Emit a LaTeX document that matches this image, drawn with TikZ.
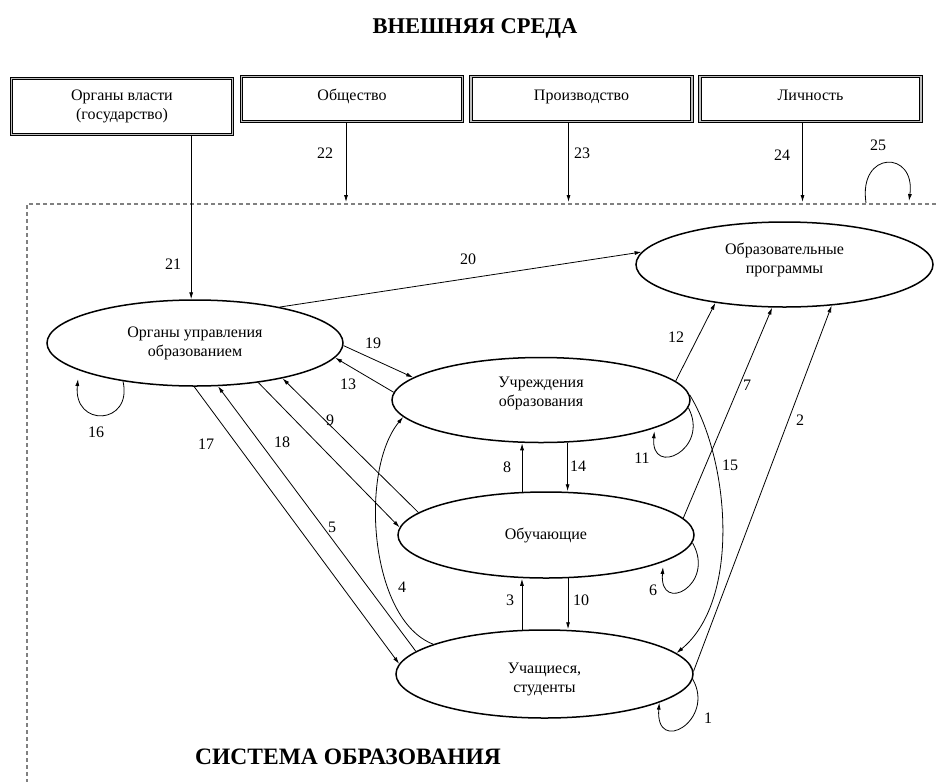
\documentclass[tikz,border=0pt]{standalone}
\usepackage{fontspec}
\setmainfont{Liberation Serif}
\usetikzlibrary{shapes.geometric,arrows.meta}
\begin{document}
\begin{tikzpicture}[x=1pt,y=-1pt,
  every node/.style={font=\fontsize{16}{19}\selectfont},
  ell/.style={ellipse,draw,line width=1.5pt,inner sep=0pt,align=center},
  box/.style={draw=black,line width=1pt,double=gray!50,double distance=1.5pt,inner sep=0pt,align=center,minimum width=221pt},
  arr/.style={-{Latex[length=7pt,width=4pt]},line width=0.8pt},
  lbl/.style={inner sep=0pt},
  ttl/.style={font=\fontsize{22.5}{26}\selectfont\bfseries},
  dashbord/.style={draw=gray,line width=1.4pt,dash pattern=on 4pt off 3pt}
]
\useasboundingbox (0,0) rectangle (936,782);

% titles
\node[ttl] (t1) at (475,28) {ВНЕШНЯЯ СРЕДА};
\node[ttl,font=\fontsize{23.5}{27}\selectfont\bfseries] (t2) at (348,757) {СИСТЕМА ОБРАЗОВАНИЯ};

% dashed border of the system
\coordinate (dright) at (936,204);
\coordinate (dtop) at (27,204);
\coordinate (dbot) at (27,782);
\draw[dashbord] (dright) -- (dtop) -- (dbot);

% boxes of the environment
\node[box,minimum height=56pt] (b1) at (122,106.5) {Органы власти\\(государство)};
\node[box,minimum height=45pt,text height=11pt,text depth=9pt] (b2) at (352,99) {Общество};
\node[box,minimum height=45pt,text height=11pt,text depth=9pt] (b3) at (581.5,99) {Производство};
\node[box,minimum height=45pt,text height=11pt,text depth=9pt] (b4) at (810.5,99) {Личность};

% ellipses
\node[ell,minimum width=296pt,minimum height=86pt] (OU) at (195,343) {Органы управления\\образованием};
\node[ell,minimum width=297pt,minimum height=85pt,text depth=13pt] (OP) at (784.5,264.5) {Образовательные\\программы};
\node[ell,minimum width=298pt,minimum height=85pt,text depth=16pt] (UO) at (541,400) {Учреждения\\образования};
\node[ell,minimum width=296pt,minimum height=86pt] (OB) at (546,535) {Обучающие};
\node[ell,minimum width=297pt,minimum height=88pt,text height=40pt] (US) at (544.5,674) {Учащиеся,\\студенты};

% arrows from the environment
\draw[arr] (b1.south -| OU.95) -- (OU.95);
\coordinate (a22) at ([xshift=-6pt]b2.south);
\coordinate (a23) at ([xshift=-13pt]b3.south);
\coordinate (a24) at ([xshift=-8pt]b4.south);
\draw[arr,shorten >=2pt] (a22) -- (a22 |- dtop);
\draw[arr,shorten >=2pt] (a23) -- (a23 |- dtop);
\draw[arr,shorten >=2pt] (a24) -- (a24 |- dtop);
\coordinate (l25a) at (866,203);
\coordinate (l25b) at (909,201);
\draw[arr] (l25a) .. controls +(-8,-53) and +(7,-51) .. (l25b);

% links
\draw[arr] (OU.23) -- (OP.175);          % 20
\draw[arr] (OU.-1) -- (UO.170);          % 19
\draw[arr] (UO.177) -- (OU.-6);          % 13
\draw[arr] (OB.170) -- (OU.-22);         % 9
\draw[arr] (OU.-32) -- (OB.177);         % 18
\draw[arr] (US.170) -- (OU.-62);         % 5
\draw[arr] (OU.-91) -- (US.176);         % 17
\draw[arr] (UO.8) -- (OP.-151);          % 12
\draw[arr] (OB.7) -- (OP.-106);          % 7
\draw[arr] (US.1) -- (OP.-41);           % 2
\draw[arr] (OB.119.5) -- (OB.119.5 |- UO.south);   % 8
\draw[arr] (UO.-58) -- (UO.-58 |- OB.north);       % 14
\draw[arr] (US.117.4) -- (US.117.4 |- OB.south);   % 3
\draw[arr] (OB.-63.7) -- (OB.-63.7 |- US.north);   % 10
\draw[arr] (UO.2) .. controls +(40,65.5) and +(64.5,-53) .. (US.9);      % 15
\draw[arr] (US.165) .. controls +(-64,-24.5) and +(-44,53) .. (UO.-173); % 4

% loops
\draw[arr] (OU.-152) .. controls +(10,44) and +(-5,49) .. ([yshift=-9pt]OU.-167);  % 16
\draw[arr] (UO.-3.3) .. controls +(22,41.5) and +(-4,47) .. ([yshift=-3pt]UO.-14.4); % 11
\draw[arr] (OB.-3) .. controls +(24,42) and +(-4,48) .. ([yshift=-5pt]OB.-13);     % 6
\draw[arr] (US.-2) .. controls +(23,41) and +(-4,53) .. (US.-14);                   % 1

% labels
\node[lbl] (n21) at (173,264) {21};
\node[lbl] (n22) at (325,153) {22};
\node[lbl] (n23) at (582,153) {23};
\node[lbl] (n24) at (782,155) {24};
\node[lbl] (n25) at (878,145) {25};
\node[lbl] (n20) at (468,259) {20};
\node[lbl] (n19) at (373,343) {19};
\node[lbl] (n13) at (348,384) {13};
\node[lbl] (n16) at (96,432) {16};
\node[lbl] (n17) at (206,444) {17};
\node[lbl] (n18) at (282,442) {18};
\node[lbl] (n9) at (330,420) {9};
\node[lbl] (n12) at (676,337) {12};
\node[lbl] (n7) at (747,385) {7};
\node[lbl] (n2) at (800,420) {2};
\node[lbl] (n11) at (642,458) {11};
\node[lbl] (n15) at (730,465) {15};
\node[lbl] (n8) at (507,467) {8};
\node[lbl] (n14) at (578,466) {14};
\node[lbl] (n6) at (653,590) {6};
\node[lbl] (n3) at (510,600) {3};
\node[lbl] (n10) at (581,600) {10};
\node[lbl] (n5) at (332,527) {5};
\node[lbl] (n4) at (402,587) {4};
\node[lbl] (n1) at (708,718) {1};
\end{tikzpicture}
\end{document}
